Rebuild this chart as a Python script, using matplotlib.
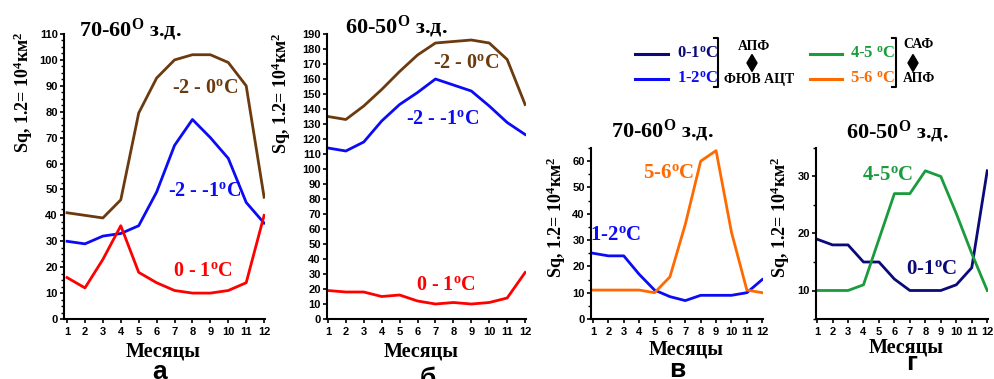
import matplotlib
matplotlib.use("Agg")
import matplotlib.pyplot as plt
from matplotlib.lines import Line2D
from matplotlib.patches import Polygon
from matplotlib.ticker import MultipleLocator

# ---------------- data ----------------
months = list(range(1, 13))

# panel a: 70-60 W
a_m2_0 = [41, 40, 39, 46, 79.5, 93, 100, 102, 102, 99, 90, 47]
a_m2_m1 = [30, 29, 32, 33, 36, 49, 67, 77, 70, 62, 45, 37]
a_0_1 = [16, 12, 23, 36, 18, 14, 11, 10, 10, 11, 14, 40]

# panel b: 60-50 W
b_m2_0 = [135, 133, 142, 153, 165, 176, 184, 185, 186, 184, 173, 143]
b_m2_m1 = [114, 112, 118, 132, 143, 151, 160, 156, 152, 142, 131, 123]
b_0_1 = [19, 18, 18, 15, 16, 12, 10, 11, 10, 11, 14, 31]

# panel v: 70-60 W
v_1_2 = [25, 24, 24, 17, 11, 8.5, 7, 9, 9, 9, 10, 15]
v_5_6 = [11, 11, 11, 11, 10, 16, 36, 60, 64, 33, 11, 10]

# panel g: 60-50 W
g_0_1 = [19, 18, 18, 15, 15, 12, 10, 10, 10, 11, 14, 31]
g_4_5 = [10, 10, 10, 11, 19, 27, 27, 31, 30, 23.5, 16.5, 10]

month_ticks = [str(m) for m in months]

# ---------------- style ----------------
BROWN = "#6B3A0E"
BLUE = "#0B0BF5"
RED = "#FF0000"
ORANGE = "#FF6A00"
GREEN = "#1A9B3C"
NAVY = "#0A0A78"

SERIF = "Liberation Serif"
SANS = "Liberation Sans"

plt.rcParams["mathtext.fontset"] = "custom"
plt.rcParams["mathtext.rm"] = "Liberation Serif:bold"
plt.rcParams["mathtext.it"] = "Liberation Serif:bold"
plt.rcParams["mathtext.bf"] = "Liberation Serif:bold"

W, H = 994, 379
fig = plt.figure(figsize=(W / 100, H / 100), dpi=100)


def fx(x):
    return x / W


def fy(y):
    return 1 - y / H


def make_ax(left, right, top, bottom, xlim, ylim, major, minor=None):
    ax = fig.add_axes([fx(left), fy(bottom), (right - left) / W, (bottom - top) / H])
    ax.set_xlim(*xlim)
    ax.set_ylim(*ylim)
    for s in ("top", "right"):
        ax.spines[s].set_visible(False)
    for s in ("left", "bottom"):
        ax.spines[s].set_linewidth(1.5)
    ax.set_xticks(months)
    ax.set_xticklabels(month_ticks)
    ax.yaxis.set_major_locator(MultipleLocator(major))
    if minor:
        ax.yaxis.set_minor_locator(MultipleLocator(minor))
    ax.tick_params(axis="both", which="major", length=3, width=1.2, pad=1.5,
                   labelsize=8)
    ax.tick_params(axis="x", which="major", pad=3)
    ax.tick_params(axis="y", which="minor", length=2, width=1.0)
    for lab in ax.get_xticklabels() + ax.get_yticklabels():
        lab.set_fontfamily(SANS)
        lab.set_fontweight("bold")
    return ax


def ann(ax, x, y, s, color, size=14.5):
    ax.text(x, y, s, color=color, fontsize=size, fontfamily=SERIF,
            fontweight="bold", ha="center", va="center")


def ftext(x, y, s, size, color="black", family=SERIF, rot=0, ha="center",
          va="baseline"):
    fig.text(fx(x), fy(y), s, fontsize=size, color=color, fontfamily=family,
             fontweight="bold", rotation=rot, ha=ha, va=va)


LW = 2.0
deg = r"$^{\rm o}$"
DEG = r"$^{\rm O}$"
ylab = r"Sq, 1.2= 10$^4$км$^2$"

# ---------------- panel a ----------------
ax = make_ax(64, 265, 34, 319, (0.83, 12.05), (0, 110), 10, 2.5)
ax.plot(months, a_m2_0, color=BROWN, lw=LW)
ax.plot(months, a_m2_m1, color=BLUE, lw=LW)
ax.plot(months, a_0_1, color=RED, lw=LW)
ann(ax, 8.7, 89, "-2 - 0" + deg + "C", BROWN)
ann(ax, 8.65, 49.5, "-2 - -1" + deg + "C", BLUE)
ann(ax, 8.6, 18.5, "0 - 1" + deg + "C", RED)

# ---------------- panel b ----------------
ax = make_ax(327, 526, 34, 319, (0.95, 12.05), (0, 190), 10)
ax.plot(months, b_m2_0, color=BROWN, lw=LW)
ax.plot(months, b_m2_m1, color=BLUE, lw=LW)
ax.plot(months, b_0_1, color=RED, lw=LW)
ann(ax, 8.7, 170.5, "-2 - 0" + deg + "C", BROWN)
ann(ax, 7.4, 133, "-2 - -1" + deg + "C", BLUE)
ann(ax, 7.6, 22.5, "0 - 1" + deg + "C", RED)

# ---------------- panel v ----------------
ax = make_ax(591, 763, 148, 319, (0.87, 12.05), (0, 65), 10, 5)
ax.plot(months, v_1_2, color=BLUE, lw=LW)
ax.plot(months, v_5_6, color=ORANGE, lw=LW)
ann(ax, 5.9, 55.5, "5-6" + deg + "C", ORANGE, 15)
ann(ax, 2.45, 32, "1-2" + deg + "C", BLUE, 15)

# ---------------- panel g ----------------
ax = make_ax(816, 988, 148, 319, (0.93, 12.05), (5, 35), 10, 5)
ax.plot(months, g_0_1, color=NAVY, lw=LW)
ax.plot(months, g_4_5, color=GREEN, lw=LW)
ann(ax, 5.55, 30.2, "4-5" + deg + "C", GREEN, 15)
ann(ax, 8.4, 13.8, "0-1" + deg + "C", NAVY, 15)

# ---------------- titles, labels ----------------
ftext(130, 36, "70-60" + DEG + " з.д.", 16)
ftext(396, 33, "60-50" + DEG + " з.д.", 16)
ftext(662, 137, "70-60" + DEG + " з.д.", 16)
ftext(897, 138, "60-50" + DEG + " з.д.", 16)

ftext(23, 92, ylab, 13, rot=90, va="center")
ftext(281, 93, ylab, 13, rot=90, va="center")
ftext(556, 217, ylab, 13, rot=90, va="center")
ftext(780, 217, ylab, 13, rot=90, va="center")

ftext(163, 357, "Месяцы", 14.5)
ftext(421, 357, "Месяцы", 14.5)
ftext(686, 355, "Месяцы", 14.5)
ftext(906, 352, "Месяцы", 14.5)

ftext(160, 379, "а", 19, family=SANS)
ftext(428, 386, "б", 19, family=SANS)
ftext(677, 377, "в", 19, family=SANS)
ftext(912, 370, "г", 19, family=SANS)

# ---------------- legend ----------------
def seg(x0, x1, y, color, lw=2.2):
    fig.add_artist(Line2D([fx(x0), fx(x1)], [fy(y), fy(y)], color=color, lw=lw,
                          transform=fig.transFigure))


def bracket(x, y0, y1):
    fig.add_artist(Line2D([fx(x - 4), fx(x), fx(x), fx(x - 4)],
                          [fy(y0), fy(y0), fy(y1), fy(y1)], color="black",
                          lw=1.5, transform=fig.transFigure))


def diamond(xc, yc, w=10, h=17):
    pts = [(fx(xc), fy(yc - h / 2)), (fx(xc + w / 2), fy(yc)),
           (fx(xc), fy(yc + h / 2)), (fx(xc - w / 2), fy(yc))]
    fig.add_artist(Polygon(pts, closed=True, facecolor="black",
                           edgecolor="black", transform=fig.transFigure))


seg(635, 668, 54, NAVY)
seg(635, 668, 79, BLUE)
ftext(677, 54, "0-1" + deg + "C", 12, color=NAVY, ha="left", va="center")
ftext(677, 79, "1-2" + deg + "C", 12, color=BLUE, ha="left", va="center")
bracket(718, 38, 87)
ftext(754, 47, "АПФ", 10, va="center")
diamond(752, 63)
ftext(759, 79, "ФЮВ АЦТ", 10, va="center")

seg(810, 842, 54, GREEN)
seg(810, 842, 79, ORANGE)
ftext(850, 54, "4-5 " + deg + "C", 12, color=GREEN, ha="left", va="center")
ftext(850, 79, "5-6 " + deg + "C", 12, color=ORANGE, ha="left", va="center")
bracket(896, 38, 87)
ftext(919, 45, "САФ", 10, va="center")
diamond(913, 63)
ftext(919, 79, "АПФ", 10, va="center")

fig.savefig("out.png", dpi=100)
